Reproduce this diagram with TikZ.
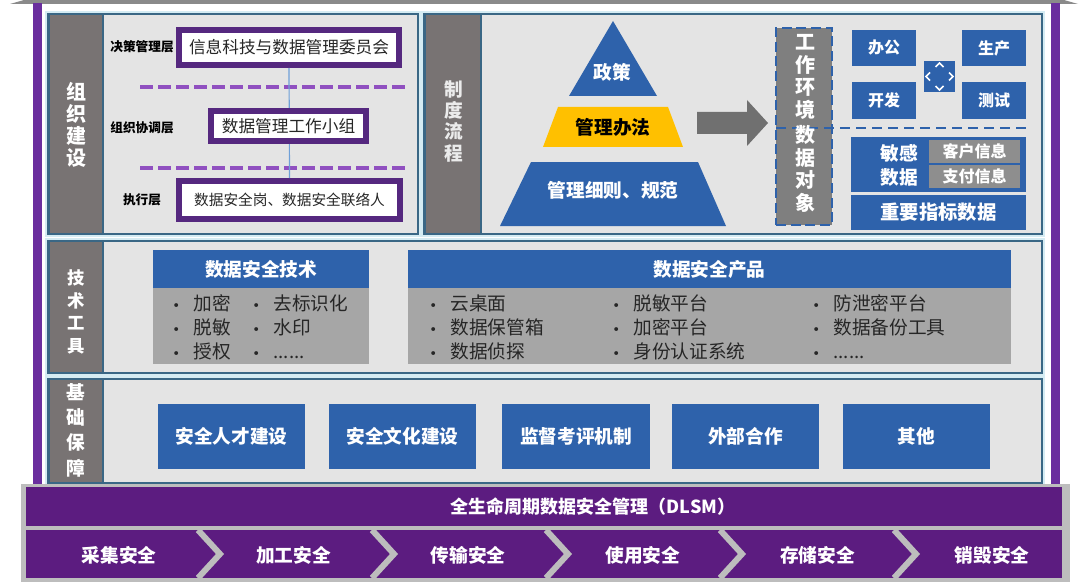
\documentclass[tikz,border=0pt]{standalone}
\usepackage{fontspec}
\setmainfont{Noto Sans CJK SC}
\newfontfamily\dejavu{DejaVu Sans}
\usetikzlibrary{fit}
\definecolor{purpleF}{HTML}{6A2E9E}
\definecolor{purpleD}{HTML}{5C1C80}
\definecolor{orgP}{HTML}{55287F}
\definecolor{blueC}{HTML}{2E62AB}
\definecolor{panelG}{HTML}{E4E4E4}
\definecolor{panelB}{HTML}{3A6785}
\definecolor{stripG}{HTML}{787373}
\definecolor{bodyG}{HTML}{A6A6A6}
\definecolor{cellG}{HTML}{8E8E8E}
\definecolor{arrowG}{HTML}{707070}
\definecolor{dboxG}{HTML}{7F7F7F}
\definecolor{yellowC}{HTML}{FFC000}
\definecolor{dashP}{HTML}{9050C0}
\definecolor{lineB}{HTML}{6FA0D8}
\definecolor{glow}{HTML}{D5ECF3}
\definecolor{itemT}{HTML}{262626}
\definecolor{barG}{HTML}{BDBDBD}
\definecolor{topG}{HTML}{8A8A8A}
\newcommand\fsz[2]{\fontsize{#1}{#2}\selectfont}
\newcommand\itm{\makebox[16pt][l]{{\dejavu\fontsize{10}{12}\selectfont •}}}
% box from (x1,y1) to (x2,y2) with centred text
\newcommand\bx[7]{%
  \node[#1, fit={(#3,#4) (#5,#6)}] (#2) {};
  \node[#1, fill=none, draw=none, preaction={}] (#2t) at (#2.center) {#7};}
\begin{document}
\begin{tikzpicture}[x=0.75pt,y=-0.75pt,
  panel/.style={fill=panelG, draw=panelB, line width=1.5pt, inner sep=0, preaction={draw=glow, line width=4.5pt}},
  strip/.style={fill=stripG, draw=panelB, line width=1.5pt, inner sep=0},
  vlab/.style={text=white, align=center, inner sep=0},
  bbox/.style={fill=blueC, inner sep=0, text=white, font=\bfseries\fsz{14}{17}},
  sbox/.style={fill=blueC, inner sep=0, text=white, font=\bfseries\fsz{12}{14}},
  cell/.style={fill=cellG, inner sep=0, text=white, font=\bfseries\fsz{12}{14}},
  body/.style={fill=bodyG, inner sep=0},
  orgbox/.style={fill=white, draw=orgP, line width=4.5pt, inner sep=0, text=itemT},
  layer/.style={font=\bfseries\fsz{9.5}{11}, inner sep=0},
  sepline/.style={draw=dashP, line width=3pt, dash pattern=on 9.75pt off 3.75pt},
  item/.style={align=left, anchor=west, inner sep=0, text=itemT, font=\fsz{14}{18}},
  chev/.style={draw=barG, line width=4.5pt},
  chevlab/.style={text=white, font=\bfseries\fsz{14}{17}, inner sep=0},
  pyrlab/.style={font=\bfseries\fsz{14}{17}, inner sep=0}
]
\useasboundingbox (0,0) rectangle (1080,588);
\fill[white] (0,0) rectangle (1080,588);

% outer frame
\fill[topG] (10,4) -- (24,0) -- (1064,0) -- (1078,4) -- cycle;
\fill[purpleF] (33,3) rectangle (42,487);
\fill[purpleF] (1051,3) rectangle (1060,487);

% ---------- organisation panel ----------
\node[panel, fit={(48,14) (418,234)}] (orgPanel) {};
\node[strip, fit={(49,14) (103,234)}] (orgStrip) {};
\node[vlab, font=\bfseries\fsz{15}{16.5}] (orgLab) at (76,125) {组\\织\\建\\设};

\coordinate (d1a) at (140,87); \coordinate (d1b) at (408,87);
\coordinate (d2a) at (140,168); \coordinate (d2b) at (405,168);
\draw[sepline] (d1a) -- (d1b);
\draw[sepline] (d2a) -- (d2b);

\bx{orgbox, font=\fsz{12.5}{14}}{o1}{179}{30}{399}{65}{信息科技与数据管理委员会}
\bx{orgbox, font=\fsz{11}{13}}{o3}{179}{181}{400}{219}{数据安全岗、数据安全联络人}
\draw[lineB, line width=0.9pt] (o1.south) -- (o3.north);
\bx{orgbox, font=\fsz{12.5}{14}}{o2}{211}{111}{366}{141}{数据管理工作小组}

\node[layer] (l1) at (142,47) {决策管理层};
\node[layer] (l2) at (142,128) {组织协调层};
\node[layer] (l3) at (142,200) {执行层};

% ---------- policy panel ----------
\node[panel, fit={(424,14) (1042,234)}] (polPanel) {};
\node[strip, fit={(425,14) (481,234)}] (polStrip) {};
\node[vlab, text=white!92!black, font=\bfseries\fsz{14}{16}] (polLab) at (454,121) {制\\度\\流\\程};

\fill[blueC] (613,21) -- (657,96) -- (569,96) -- cycle;
\fill[yellowC] (558,107) -- (668,107) -- (683,147) -- (543,147) -- cycle;
\fill[blueC] (531,162) -- (698,162) -- (726,226) -- (500,226) -- cycle;
\node[pyrlab, text=white] (p1) at (612,72) {政策};
\node[pyrlab, text=black] (p2) at (613,127) {管理办法};
\node[pyrlab, text=white] (p3) at (613,190) {管理细则、规范};

\fill[arrowG] (697,112) -- (747,112) -- (747,100) -- (768,123) -- (747,146) -- (747,134) -- (697,134) -- cycle;

\node[fit={(776,28) (832,225)}, fill=dboxG, draw=blueC, line width=2.2pt, dash pattern=on 7.5pt off 3.5pt, inner sep=0] (envBox) {};
\coordinate (sepL) at (776,128); \coordinate (sepR) at (1027,128);
\draw[blueC, line width=2.2pt, dash pattern=on 7.5pt off 4.5pt] (sepL) -- (sepR);
\node[vlab, font=\bfseries\fsz{15}{17}] (envT) at (805,77) {工\\作\\环\\境};
\node[vlab, font=\bfseries\fsz{15}{17}] (objT) at (805,169) {数\\据\\对\\象};

\bx{sbox}{e1}{852}{30}{916}{66}{办公}
\bx{sbox}{e2}{962}{30}{1026}{66}{生产}
\bx{sbox}{e3}{852}{82}{916}{119}{开发}
\bx{sbox}{e4}{962}{82}{1026}{119}{测试}
\node[fill=blueC, inner sep=0, fit={(924,61) (955,92)}] (ic) {};
\draw[white, line width=1.3pt] (935.5,67) -- (939.5,63) -- (943.5,67);
\draw[white, line width=1.3pt] (935.5,86) -- (939.5,90) -- (943.5,86);
\draw[white, line width=1.3pt] (930,72.5) -- (926,76.5) -- (930,80.5);
\draw[white, line width=1.3pt] (949,72.5) -- (953,76.5) -- (949,80.5);

\node[fill=blueC, inner sep=0, fit={(851,137) (1026,192)}] (sens) {};
\node[vlab, font=\bfseries\fsz{14}{18}] (sensT) at (899,165) {敏感\\数据};
\bx{cell}{c1}{929}{140}{1020}{163}{客户信息}
\bx{cell}{c2}{929}{165}{1020}{188}{支付信息}
\bx{bbox, font=\bfseries\fsz{14.5}{17}}{key}{851}{195}{1026}{230}{重要指标数据}

% ---------- technology panel ----------
\node[panel, fit={(48,241) (1042,373)}] (techPanel) {};
\node[strip, fit={(49,241) (103,373)}] (techStrip) {};
\node[vlab, font=\bfseries\fsz{13}{17}] (techLab) at (76,312) {技\\术\\工\\具};

\bx{bbox}{h1}{153}{250}{369}{288}{数据安全技术}
\node[body, fit={(153,288) (369,364)}] (b1) {};
\bx{bbox}{h2}{408}{250}{1011}{288}{数据安全产品}
\node[body, fit={(408,288) (1011,364)}] (b2) {};

\node[item] (tc1) at (172,327) {\itm 加密\\\itm 脱敏\\\itm 授权};
\node[item] (tc2) at (252,327) {\itm 去标识化\\\itm 水印\\\itm ......};
\node[item] (pc1) at (429,327) {\itm 云桌面\\\itm 数据保管箱\\\itm 数据侦探};
\node[item] (pc2) at (612,327) {\itm 脱敏平台\\\itm 加密平台\\\itm 身份认证系统};
\node[item] (pc3) at (812,327) {\itm 防泄密平台\\\itm 数据备份工具\\\itm ......};

% ---------- base panel ----------
\node[panel, fit={(48,379) (1042,483)}] (basePanel) {};
\node[strip, fit={(49,379) (103,483)}] (baseStrip) {};
\node[vlab, font=\bfseries\fsz{14}{19}] (baseLab) at (76,430) {基\\础\\保\\障};

\bx{bbox}{g1}{158}{404}{305}{469}{安全人才建设}
\bx{bbox}{g2}{329}{404}{476}{469}{安全文化建设}
\bx{bbox}{g3}{502}{404}{650}{469}{监督考评机制}
\bx{bbox}{g4}{672}{404}{819}{469}{外部合作}
\bx{bbox}{g5}{843}{404}{990}{469}{其他}

% ---------- bottom bar ----------
\fill[barG] (21,484) rectangle (1070,582);
\fill[purpleD] (26,487) rectangle (1062,526);
\fill[purpleD] (26,530) rectangle (1062,578);
\node[chevlab, font=\bfseries\fsz{13.5}{16}] (dlsm) at (593,507) {全生命周期数据安全管理（DLSM）};
\foreach \i in {0,...,4} {
  \draw[chev] ({198+174*\i},530) -- ({220+174*\i},554) -- ({198+174*\i},578);
}
\foreach \t [count=\i from 0] in {采集安全,加工安全,传输安全,使用安全,存储安全,销毁安全} {
  \node[chevlab] (s\i) at ({119+174.6*\i},555) {\t};
}
\end{tikzpicture}
\end{document}
